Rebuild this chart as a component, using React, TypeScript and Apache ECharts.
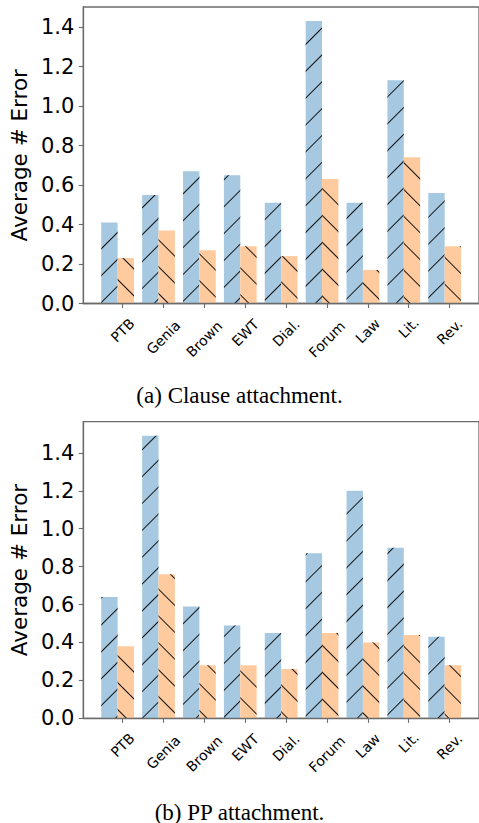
import React, { useEffect, useRef } from 'react';
import * as echarts from 'echarts';

const categories = ['PTB', 'Genia', 'Brown', 'EWT', 'Dial.', 'Forum', 'Law', 'Lit.', 'Rev.'];
const clauseBlue = [0.41, 0.55, 0.67, 0.65, 0.51, 1.43, 0.51, 1.13, 0.56];
const clauseOrange = [0.23, 0.37, 0.27, 0.29, 0.24, 0.63, 0.17, 0.74, 0.29];
const ppBlue = [0.64, 1.49, 0.59, 0.49, 0.45, 0.87, 1.2, 0.9, 0.43];
const ppOrange = [0.38, 0.76, 0.28, 0.28, 0.26, 0.45, 0.4, 0.44, 0.28];
const yTicks = [0, 0.2, 0.4, 0.6, 0.8, 1.0, 1.2, 1.4];
const yMaxes = [1.5015, 1.5645];
const captions = ['(a) Clause attachment.', '(b) PP attachment.'];
const yAxisTitle = 'Average # Error';

const TICK_OFFSET = 0.12;
const X_MIN = -0.84;
const X_MAX = 8.84;
const BLUE = '#a6c9e1';
const ORANGE = '#ffcb9e';
const SPINE = '#6b6b6b';
const SANS = 'DejaVu Sans';

function hatch(rotation: number) {
  return {
    symbol: 'rect',
    symbolSize: 1,
    symbolKeepAspect: false,
    color: '#111111',
    dashArrayX: [20, 0],
    dashArrayY: [1, 18],
    rotation,
  };
}

export default function App() {
  const ref = useRef<HTMLDivElement>(null);
  useEffect(() => {
    if (!ref.current) return;
    const chart = echarts.init(ref.current, null, { renderer: 'svg' });

    const canvas = document.createElement('canvas');
    const ctx = canvas.getContext('2d')!;
    ctx.font = `14px "${SANS}"`;
    const labelWidths = categories.map((c) => ctx.measureText(c).width);
    const tickPos = categories.map((_, i) => i + TICK_OFFSET);

    const tops = [7, 421.7];
    const heights = [296.5, 296.6];
    const groups = [
      [clauseBlue, clauseOrange],
      [ppBlue, ppOrange],
    ];

    const grid = tops.map((t, k) => ({
      left: 82,
      top: t,
      width: 399.3,
      height: heights[k],
      show: true,
      borderColor: SPINE,
      borderWidth: 1.3,
      backgroundColor: 'transparent',
    }));

    const xAxis = tops.map((_, k) => ({
      type: 'value',
      gridIndex: k,
      min: X_MIN,
      max: X_MAX,
      z: 5,
      splitLine: { show: false },
      axisLine: { show: true, onZero: false, lineStyle: { color: SPINE, width: 1.3 } },
      axisTick: { show: true, length: 4.5, customValues: tickPos, lineStyle: { color: SPINE, width: 1.1 } },
      axisLabel: { show: false },
    }));

    const yAxis = tops.map((_, k) => ({
      type: 'value',
      gridIndex: k,
      min: 0,
      max: yMaxes[k],
      z: 5,
      name: yAxisTitle,
      nameLocation: 'middle',
      nameGap: 46,
      nameRotate: 90,
      nameTextStyle: { fontSize: 21.5, fontFamily: SANS, color: '#000' },
      splitLine: { show: false },
      axisLine: { show: true, onZero: false, lineStyle: { color: SPINE, width: 1.3 } },
      axisTick: { show: true, length: 4.5, customValues: yTicks, lineStyle: { color: SPINE, width: 1.1 } },
      axisLabel: {
        show: true,
        customValues: yTicks,
        margin: 9,
        fontSize: 21,
        fontFamily: SANS,
        color: '#000',
        formatter: (v: number) => v.toFixed(1),
      },
    }));

    const series: any[] = [];
    groups.forEach((pair, k) => {
      pair.forEach((vals, j) => {
        series.push({
          type: 'bar',
          xAxisIndex: k,
          yAxisIndex: k,
          barWidth: '40%',
          barGap: '0%',
          data: vals.map((v, i) => [i, v]),
          itemStyle: {
            color: j === 0 ? BLUE : ORANGE,
            decal: hatch(j === 0 ? -Math.PI / 4 : Math.PI / 4),
          },
        });
      });
    });

    chart.setOption({
      animation: false,
      backgroundColor: '#ffffff',
      grid,
      xAxis,
      yAxis,
      series,
      title: [
        {
          text: captions[0],
          left: 'center',
          top: 384,
          padding: 0,
          textStyle: { fontFamily: 'Liberation Serif', fontSize: 23, fontWeight: 'normal', color: '#000' },
        },
        {
          text: captions[1],
          left: 'center',
          top: 800.5,
          padding: 0,
          textStyle: { fontFamily: 'Liberation Serif', fontSize: 23, fontWeight: 'normal', color: '#000' },
        },
      ],
    });

    // rotated category labels centred on the axis' own tick positions
    const graphic: any[] = [];
    tops.forEach((_, k) => {
      const axisY = chart.convertToPixel({ yAxisIndex: k }, 0) as number;
      categories.forEach((c, i) => {
        const x = chart.convertToPixel({ xAxisIndex: k }, tickPos[i]) as number;
        graphic.push({
          type: 'text',
          x,
          y: axisY + 13.5 + 0.5 * labelWidths[i],
          rotation: Math.PI / 4,
          style: {
            text: c,
            fontSize: 14,
            fontFamily: SANS,
            fill: '#000',
            align: 'center',
            verticalAlign: 'middle',
          },
        });
      });
    });
    chart.setOption({ graphic });

    return () => chart.dispose();
  }, []);
  return <div ref={ref} style={{ position: 'absolute', left: 0, top: 0, width: 479, height: 823 }} />;
}
